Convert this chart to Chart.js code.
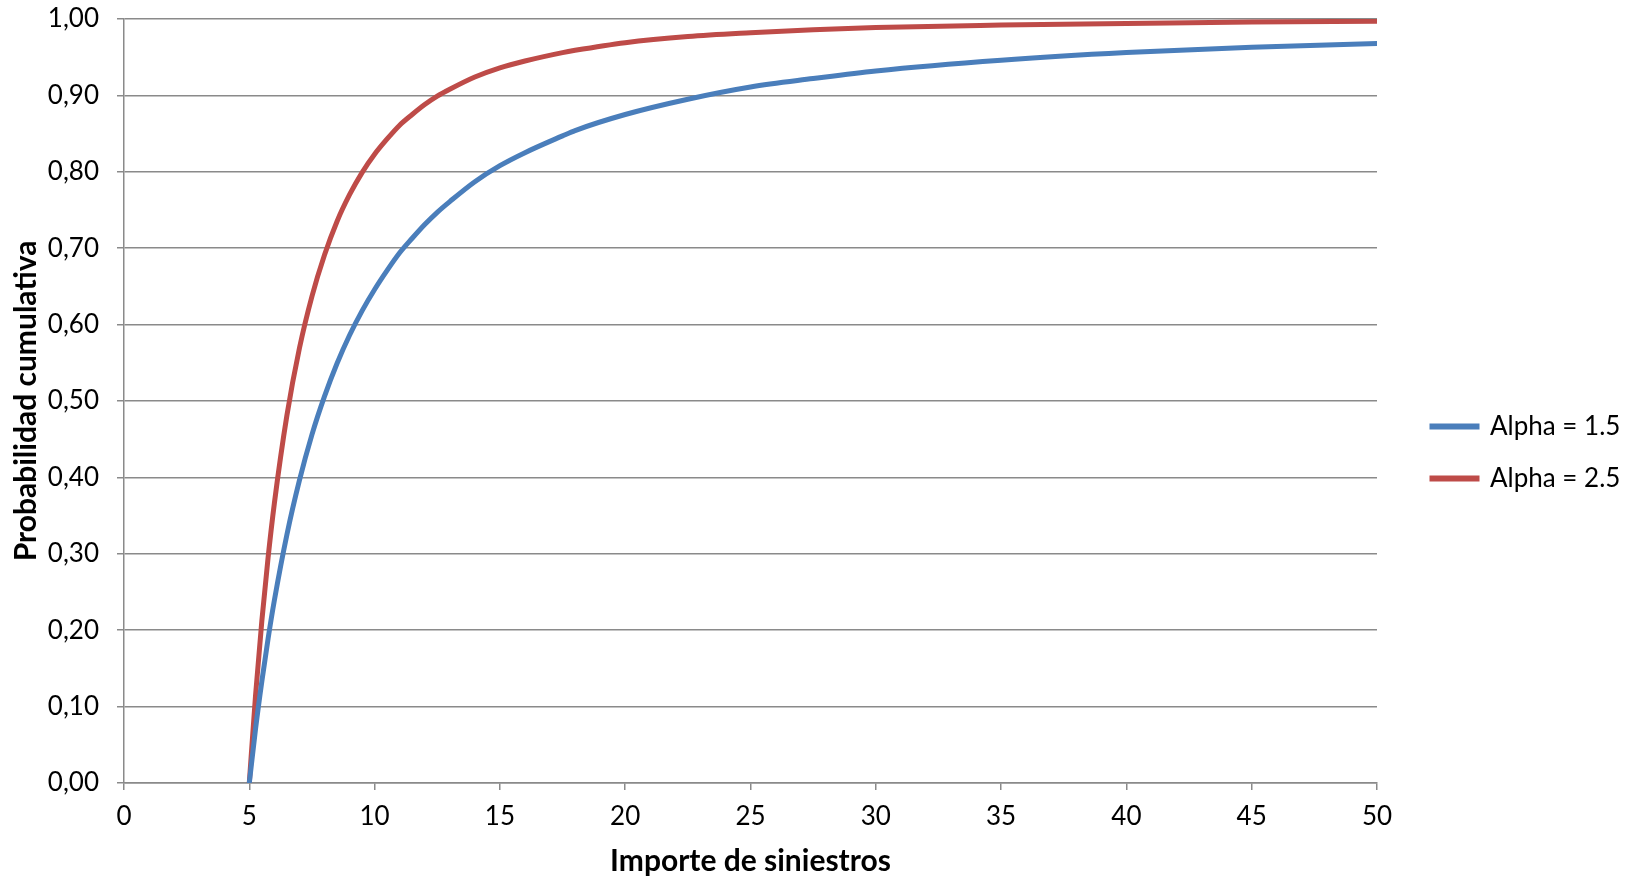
<!DOCTYPE html>
<html>
<head>
<meta charset="utf-8">
<script src="https://cdn.jsdelivr.net/npm/chart.js@4"></script>
<style>
  html, body { margin: 0; padding: 0; background: #fff; }
  #wrap { width: 1638px; height: 879px; }
</style>
</head>
<body>
<div id="wrap"><canvas id="chart"></canvas></div>
<script>
// importe de siniestros (x)
const importes = [5, 5.25, 5.5, 5.75, 6, 6.5, 7, 7.5, 8, 8.5, 9, 9.5, 10, 10.5, 11, 11.5, 12, 12.5, 13, 14, 15, 16, 17.5, 18, 20, 22.5, 25, 27.5, 30, 35, 40, 45, 50];
// probabilidad cumulativa, alpha = 1.5
const alpha15 = [0, 0.071, 0.133, 0.189, 0.239, 0.325, 0.396, 0.456, 0.506, 0.549, 0.586, 0.618, 0.646, 0.671, 0.694, 0.713, 0.731, 0.747, 0.761, 0.787, 0.808, 0.825, 0.847, 0.854, 0.875, 0.895, 0.911, 0.922, 0.932, 0.946, 0.956, 0.963, 0.968];
// probabilidad cumulativa, alpha = 2.5
const alpha25 = [0, 0.115, 0.212, 0.295, 0.366, 0.481, 0.569, 0.637, 0.691, 0.735, 0.770, 0.799, 0.823, 0.843, 0.861, 0.875, 0.888, 0.899, 0.908, 0.924, 0.936, 0.945, 0.956, 0.959, 0.969, 0.977, 0.982, 0.986, 0.989, 0.992, 0.994, 0.996, 0.997];
const seriesNames = ['Alpha = 1.5', 'Alpha = 2.5'];
const yTickLabels = ['0,00', '0,10', '0,20', '0,30', '0,40', '0,50', '0,60', '0,70', '0,80', '0,90', '1,00'];
const xTickLabels = ['0', '5', '10', '15', '20', '25', '30', '35', '40', '45', '50'];

const toPoints = ys => ys.map((y, i) => ({ x: importes[i], y: y }));

const gridColor = '#8a8a8a';
const fontFamily = 'Lato, "Liberation Sans", sans-serif';

// legend: box starts at x=1432, plot ends at x=1377 (29px spacer axis in between)
const legendPad = 26;
const legendWidth = 1638 - (1432 - legendPad);

// keep the legend at a fixed width so the plot edge does not depend on text metrics
const legendFit = {
    id: 'legendFit',
    beforeLayout(chart) {
        const lg = chart.legend;
        if (lg && !lg._fixedFit) {
            const fit = lg.fit;
            lg.fit = function () { fit.call(this); this.width = legendWidth; };
            lg._fixedFit = true;
        }
    }
};

new Chart(document.getElementById('chart'), {
    type: 'line',
    data: {
        datasets: [
            {
                label: seriesNames[0],
                data: toPoints(alpha15),
                borderColor: '#4A7EBB',
                backgroundColor: '#4A7EBB',
                borderWidth: 5,
                pointRadius: 0,
                cubicInterpolationMode: 'monotone',
                borderCapStyle: 'round'
            },
            {
                label: seriesNames[1],
                data: toPoints(alpha25),
                borderColor: '#BE4B48',
                backgroundColor: '#BE4B48',
                borderWidth: 5,
                pointRadius: 0,
                cubicInterpolationMode: 'monotone',
                borderCapStyle: 'round'
            }
        ]
    },
    plugins: [legendFit],
    options: {
        responsive: true,
        maintainAspectRatio: false,
        animation: false,
        layout: { padding: { left: 8, right: 0, top: 19, bottom: 0 } },
        plugins: {
            legend: {
                position: 'right',
                // empty title only nudges the items down a little
                title: { display: true, text: '', font: { size: 5 }, padding: 0.5 },
                labels: {
                    boxWidth: 45,
                    boxHeight: 1,
                    padding: legendPad,
                    color: '#000',
                    font: { family: fontFamily, size: 26 }
                }
            },
            tooltip: { enabled: false }
        },
        scales: {
            x: {
                type: 'linear',
                min: 0,
                max: 50,
                border: { color: gridColor, width: 1.5 },
                grid: { drawOnChartArea: false, color: gridColor, lineWidth: 1.5, tickLength: 7 },
                ticks: {
                    stepSize: 5,
                    color: '#000',
                    padding: 11,
                    maxRotation: 0,
                    font: { family: fontFamily, size: 26 },
                    callback: (v) => xTickLabels[Math.round(v / 5)]
                },
                title: {
                    display: true,
                    text: 'Importe de siniestros',
                    color: '#000',
                    font: { family: fontFamily, size: 30, weight: 'bold' },
                    padding: { top: 0, bottom: 0 }
                },
                afterFit: (s) => { s.height = 96; }
            },
            y: {
                min: 0,
                max: 1,
                border: { color: gridColor, width: 1.5 },
                grid: { color: gridColor, lineWidth: 1.5, tickLength: 7 },
                ticks: {
                    stepSize: 0.1,
                    color: '#000',
                    padding: 18,
                    font: { family: fontFamily, size: 26 },
                    callback: (v) => yTickLabels[Math.round(v * 10)]
                },
                title: {
                    display: true,
                    text: 'Probabilidad cumulativa',
                    color: '#000',
                    font: { family: fontFamily, size: 30, weight: 'bold' },
                    padding: { top: 0, bottom: 0 }
                },
                afterFit: (s) => {
                    s.width = 116;
                    s.paddingTop = 0;    // plot top is set by layout padding
                    s.paddingBottom = 0;
                }
            },
            // empty spacer between plot and legend
            gap: {
                type: 'linear',
                position: 'right',
                display: true,
                grid: { display: false, drawTicks: false },
                border: { display: false },
                ticks: { display: false },
                afterFit: (s) => { s.width = 29; }
            }
        }
    }
});
</script>
</body>
</html>
